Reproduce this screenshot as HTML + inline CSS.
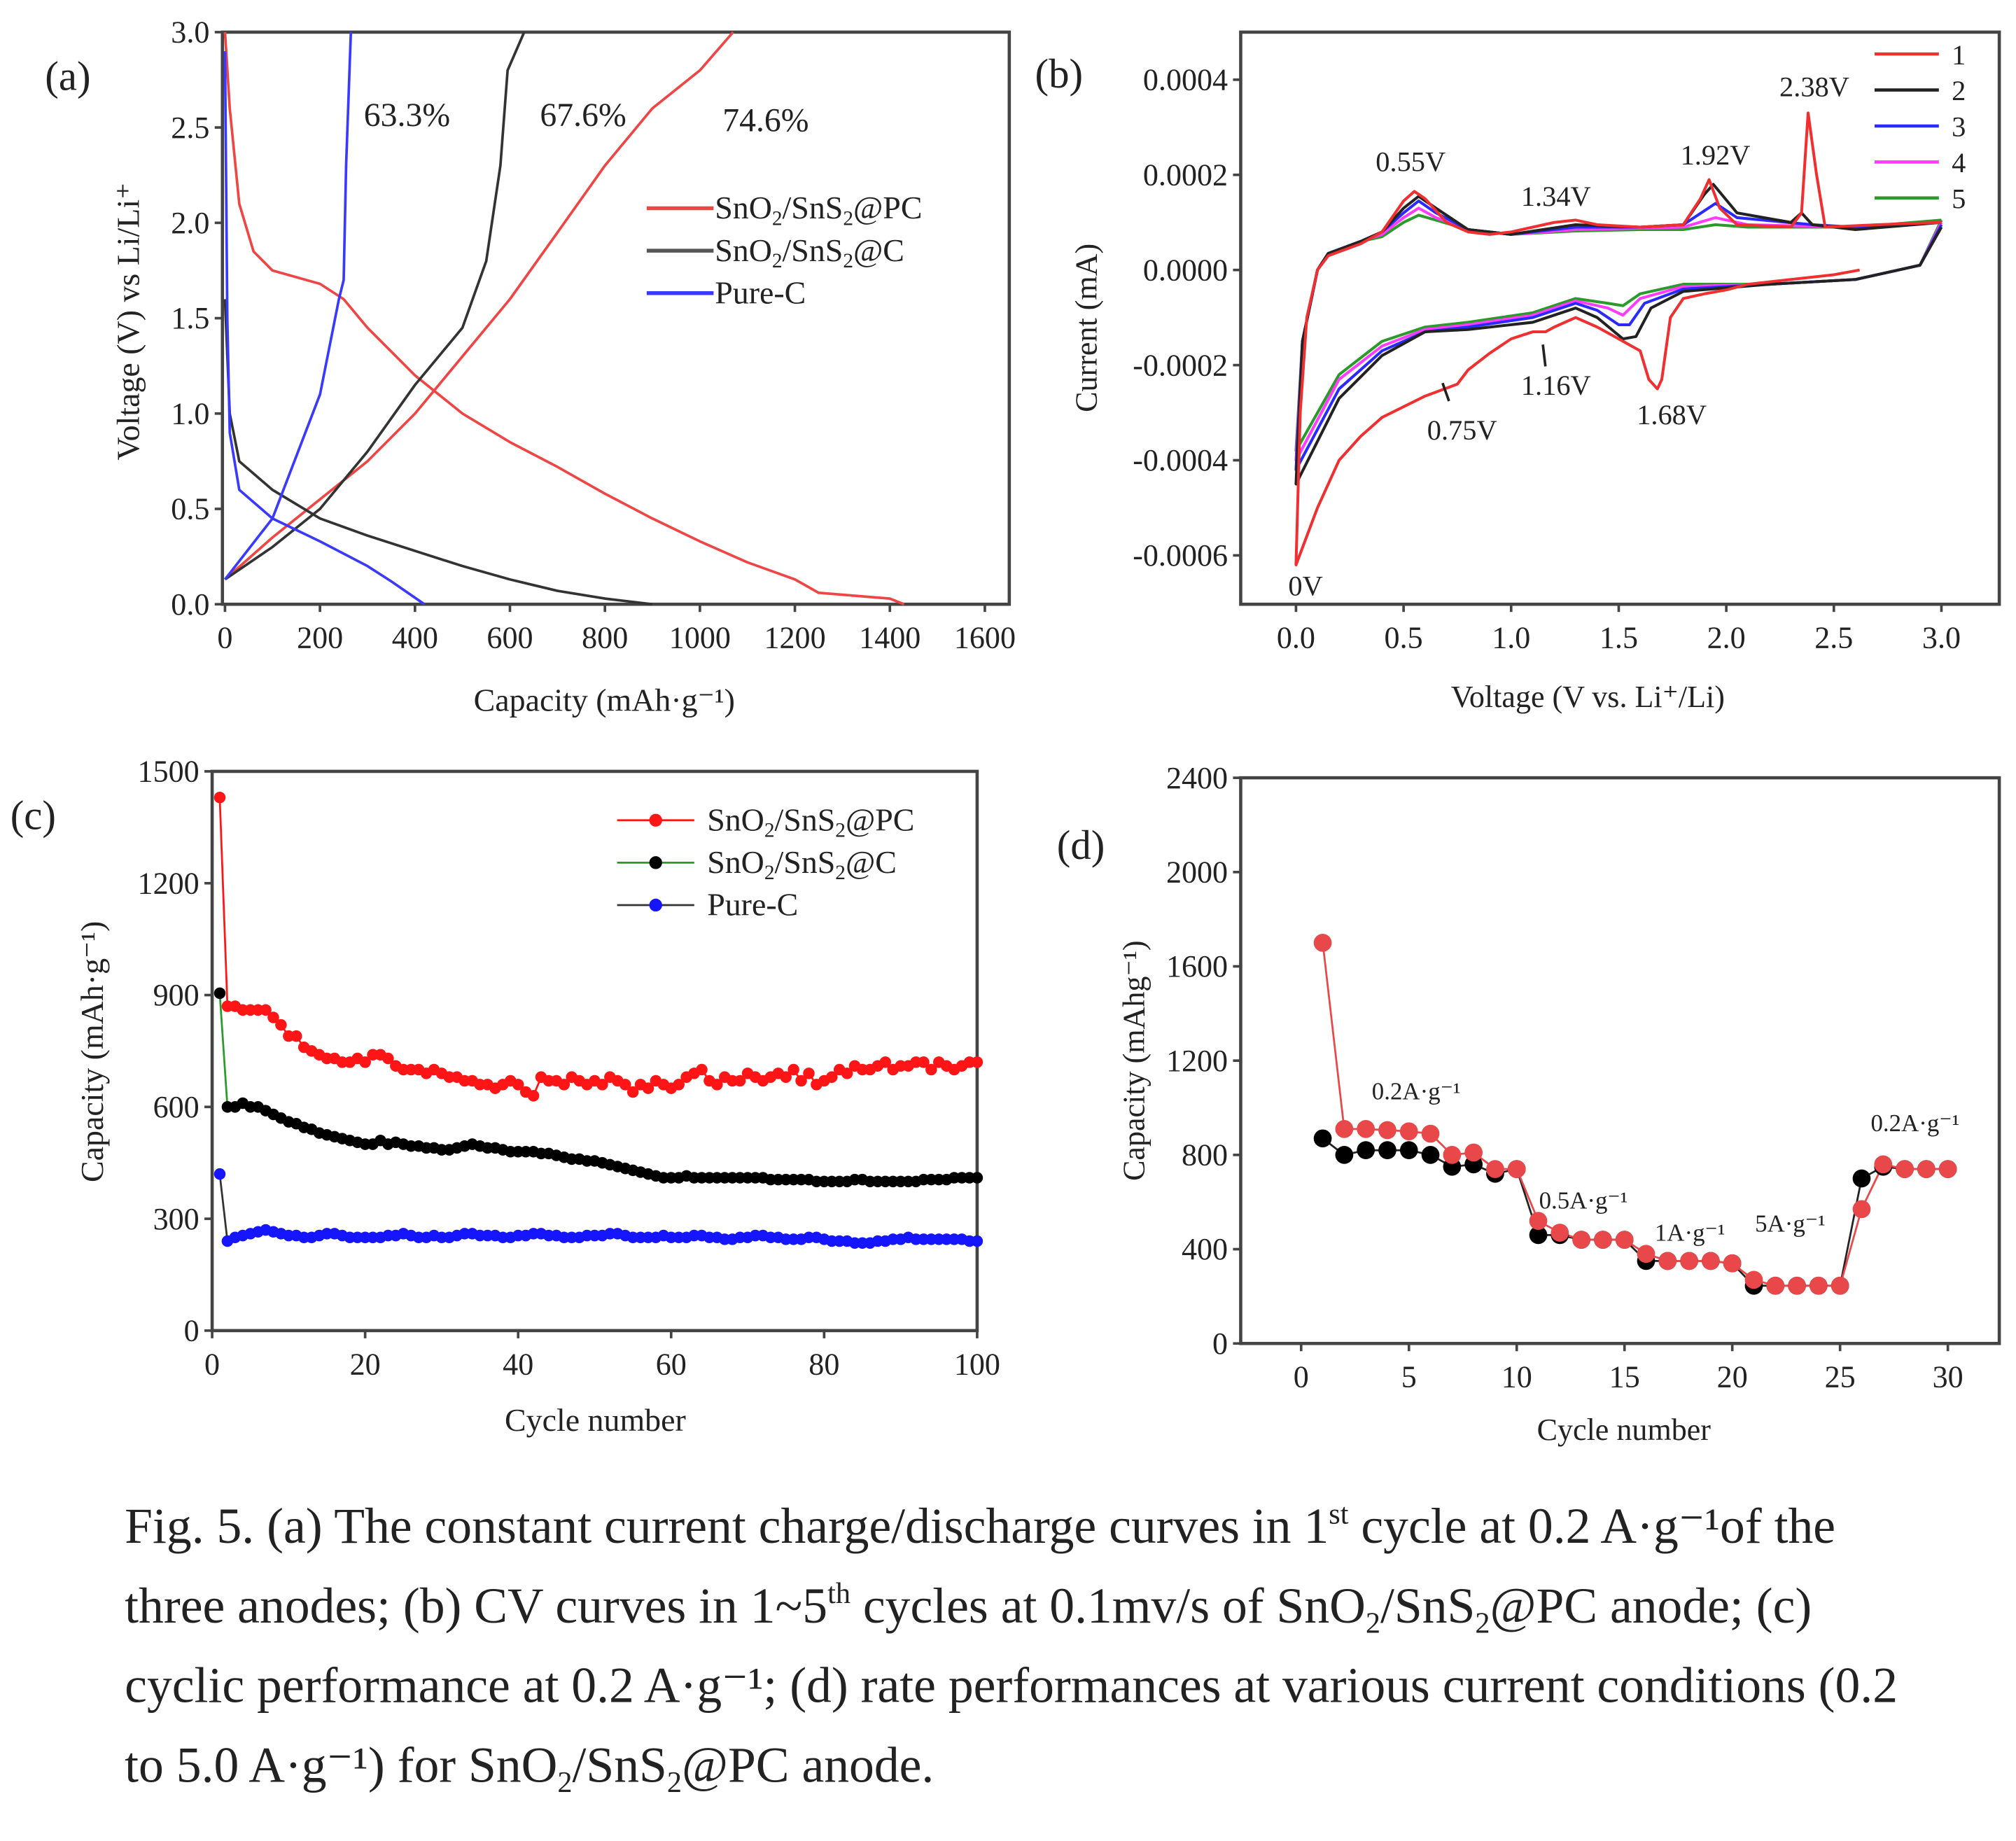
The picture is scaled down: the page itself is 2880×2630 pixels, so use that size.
<!DOCTYPE html>
<html><head><meta charset="utf-8"><style>
html,body{margin:0;padding:0;background:#fff;}
svg{display:block;font-family:"Liberation Serif","DejaVu Serif",serif;}
svg text{font-family:"Liberation Serif","DejaVu Serif",serif;fill:#222;}
</style></head><body>
<svg id="fig" xmlns="http://www.w3.org/2000/svg" width="2880" height="2630" viewBox="0 0 1568 1432" preserveAspectRatio="none" font-family="Liberation Serif, serif">
<rect x="0" y="0" width="1568" height="1432" fill="#fff"/>
<g id="pa"></g>
<g id="pb"></g>
<g id="pc"></g>
<g id="pd"></g>
<g font-size="39">
<text x="97" y="1200" font-size="39">Fig. 5. (a) The constant current charge/discharge curves in 1<tspan font-size="23" dy="-15">st</tspan><tspan dy="15"> cycle at 0.2 A·g⁻¹of the</tspan></text>
<text x="97" y="1262" font-size="39">three anodes; (b) CV curves in 1~5<tspan font-size="23" dy="-15">th</tspan><tspan dy="15"> cycles at 0.1mv/s of SnO</tspan><tspan font-size="23" dy="8">2</tspan><tspan dy="-8">/SnS</tspan><tspan font-size="23" dy="8">2</tspan><tspan dy="-8">@PC anode; (c)</tspan></text>
<text x="97" y="1324" font-size="39">cyclic performance at 0.2 A·g⁻¹; (d) rate performances at various current conditions (0.2</text>
<text x="97" y="1386" font-size="39">to 5.0 A·g⁻¹) for SnO<tspan font-size="23" dy="8">2</tspan><tspan dy="-8">/SnS</tspan><tspan font-size="23" dy="8">2</tspan><tspan dy="-8">@PC anode.</tspan></text>
</g>
</svg>
<script>
// ---------- Panel (a) data: [capacity, voltage]
const aPCdis=[[0,3.0],[10,2.6],[30,2.1],[60,1.85],[100,1.75],[200,1.68],[250,1.6],[300,1.45],[400,1.2],[500,1.0],[600,0.85],[700,0.72],[800,0.58],[900,0.45],[1000,0.33],[1100,0.22],[1200,0.13],[1250,0.06],[1400,0.03],[1430,0]];
const aPCch=[[0,0.13],[100,0.35],[200,0.55],[300,0.75],[400,1.0],[500,1.3],[600,1.6],[700,1.95],[800,2.3],[900,2.6],[1000,2.8],[1070,3.0]];
const aCdis=[[0,1.6],[10,1.0],[30,0.75],[100,0.6],[200,0.45],[300,0.36],[400,0.28],[500,0.2],[600,0.13],[700,0.07],[800,0.03],[900,0.0]];
const aCch=[[0,0.13],[100,0.3],[200,0.5],[300,0.8],[400,1.15],[500,1.45],[550,1.8],[580,2.3],[595,2.8],[630,3.0]];
const aPuredis=[[0,2.9],[5,1.5],[10,0.9],[30,0.6],[100,0.45],[200,0.33],[300,0.2],[350,0.12],[420,0]];
const aPurech=[[0,0.13],[100,0.45],[200,1.1],[240,1.6],[250,1.7],[255,2.3],[265,3.0]];
const aXticks=[0,200,400,600,800,1000,1200,1400,1600];
const aYticks=[0.0,0.5,1.0,1.5,2.0,2.5,3.0];
// ---------- Panel (b) data: [V, I(1e-4 mA)], loop per cycle
const bC1=[[2.62,0.0],[2.5,-0.1],[2.3,-0.2],[2.1,-0.3],[2.0,-0.42],[1.9,-0.5],[1.8,-0.6],[1.74,-1.0],[1.7,-2.3],[1.68,-2.5],[1.64,-2.3],[1.6,-1.7],[1.5,-1.45],[1.4,-1.2],[1.3,-1.0],[1.2,-1.2],[1.16,-1.3],[1.1,-1.3],[1.0,-1.45],[0.9,-1.75],[0.8,-2.1],[0.75,-2.4],[0.6,-2.65],[0.4,-3.1],[0.3,-3.5],[0.2,-4.0],[0.1,-5.0],[0.0,-6.2],[0.02,-3.0],[0.05,-1.0],[0.1,0.0],[0.15,0.3],[0.3,0.55],[0.4,0.8],[0.5,1.45],[0.55,1.65],[0.6,1.5],[0.7,1.0],[0.8,0.8],[0.9,0.75],[1.0,0.8],[1.1,0.9],[1.2,1.0],[1.3,1.05],[1.4,0.95],[1.6,0.9],[1.8,0.95],[1.88,1.5],[1.92,1.9],[1.97,1.3],[2.05,0.95],[2.3,0.9],[2.35,1.2],[2.38,3.3],[2.42,2.0],[2.46,0.9],[2.7,0.95],[3.0,1.0]];
const bC2=[[3.0,0.9],[2.9,0.1],[2.6,-0.2],[2.2,-0.3],[1.8,-0.45],[1.65,-0.8],[1.58,-1.4],[1.52,-1.45],[1.4,-1.0],[1.3,-0.8],[1.1,-1.1],[0.8,-1.25],[0.6,-1.3],[0.4,-1.8],[0.2,-2.7],[0.0,-4.5],[0.03,-1.5],[0.1,0.0],[0.15,0.35],[0.3,0.6],[0.4,0.8],[0.5,1.3],[0.57,1.55],[0.65,1.3],[0.8,0.85],[1.0,0.75],[1.3,0.95],[1.6,0.9],[1.8,0.95],[1.9,1.6],[1.94,1.8],[2.05,1.2],[2.3,1.0],[2.35,1.2],[2.4,0.95],[2.6,0.85],[3.0,1.0]];
const bC3=[[3.0,0.95],[2.9,0.1],[2.6,-0.2],[2.2,-0.3],[1.8,-0.4],[1.62,-0.7],[1.55,-1.15],[1.5,-1.15],[1.4,-0.85],[1.3,-0.7],[1.1,-1.0],[0.8,-1.2],[0.6,-1.3],[0.4,-1.7],[0.2,-2.5],[0.0,-4.2],[0.03,-1.5],[0.1,0.0],[0.15,0.35],[0.3,0.6],[0.4,0.8],[0.5,1.2],[0.57,1.45],[0.65,1.2],[0.8,0.85],[1.0,0.75],[1.3,0.9],[1.6,0.9],[1.8,0.95],[1.95,1.4],[2.05,1.1],[2.4,0.95],[2.6,0.9],[3.0,1.0]];
const bC4=[[3.0,1.0],[2.9,0.1],[2.6,-0.2],[2.2,-0.3],[1.8,-0.35],[1.6,-0.6],[1.52,-0.95],[1.45,-0.8],[1.3,-0.65],[1.1,-0.95],[0.8,-1.15],[0.6,-1.25],[0.4,-1.6],[0.2,-2.3],[0.0,-4.0],[0.03,-1.5],[0.1,0.0],[0.15,0.35],[0.3,0.6],[0.4,0.75],[0.5,1.1],[0.57,1.3],[0.65,1.1],[0.8,0.85],[1.0,0.75],[1.3,0.85],[1.6,0.88],[1.8,0.9],[1.95,1.1],[2.1,0.95],[2.6,0.9],[3.0,1.0]];
const bC5=[[3.0,1.05],[2.9,0.1],[2.6,-0.2],[2.2,-0.3],[1.8,-0.3],[1.6,-0.5],[1.52,-0.75],[1.45,-0.7],[1.3,-0.6],[1.1,-0.9],[0.8,-1.1],[0.6,-1.2],[0.4,-1.5],[0.2,-2.2],[0.0,-3.8],[0.03,-1.5],[0.1,0.0],[0.15,0.35],[0.3,0.6],[0.4,0.7],[0.5,1.0],[0.57,1.15],[0.65,1.05],[0.8,0.85],[1.0,0.75],[1.3,0.82],[1.6,0.85],[1.8,0.85],[1.95,0.95],[2.1,0.9],[2.6,0.9],[3.0,1.05]];
const bXticks=[0.0,0.5,1.0,1.5,2.0,2.5,3.0];
const bYticks=[-6,-4,-2,0,2,4];
const bYlabels=["-0.0006","-0.0004","-0.0002","0.0000","0.0002","0.0004"];
// ---------- Panel (c) data (mAh/g per cycle 1..100)
const cPC=[1430,870,870,860,860,860,860,840,820,790,790,760,750,740,730,730,720,720,730,720,740,740,730,710,700,700,700,690,700,690,680,680,670,670,660,660,650,660,670,660,640,630,680,670,670,660,680,670,660,670,660,680,670,660,640,660,650,670,660,650,660,680,690,700,670,660,680,670,670,690,680,670,680,690,680,700,670,690,660,670,680,700,690,710,700,700,710,720,700,710,710,720,720,700,720,710,700,710,720,720];
const cC=[905,600,600,610,600,600,590,580,570,560,555,545,540,530,525,520,515,510,505,500,500,510,500,505,500,495,495,490,490,485,485,490,495,500,495,490,490,485,480,480,480,480,475,475,470,465,460,460,455,455,450,445,440,435,430,425,420,415,410,410,410,415,410,410,410,410,410,410,410,410,410,410,405,405,405,405,405,405,400,400,400,400,400,405,405,400,400,400,400,400,400,400,405,405,405,405,410,410,410,410];
const cPure=[420,240,250,255,260,265,270,265,260,255,255,250,250,255,260,260,255,250,250,250,250,250,255,255,260,255,250,250,255,250,250,255,260,260,255,255,255,250,250,255,255,260,260,255,255,250,250,250,255,255,255,260,260,255,250,250,250,250,255,250,250,250,255,255,250,250,245,245,250,250,255,255,250,250,245,245,245,250,250,245,240,240,240,235,235,235,240,240,245,245,250,245,245,245,245,245,245,245,240,240];
const cXticks=[0,20,40,60,80,100];
const cYticks=[0,300,600,900,1200,1500];
// ---------- Panel (d) data
const dRed=[1700,910,910,905,900,890,800,810,740,740,520,470,440,440,440,380,350,350,350,340,270,245,245,245,245,570,760,740,740,740];
const dBlack=[870,800,820,820,820,800,750,760,720,740,460,460,440,440,440,350,350,350,350,340,245,245,245,245,245,700,750,740,740,740];
const dXticks=[0,5,10,15,20,25,30];
const dYticks=[0,400,800,1200,1600,2000,2400];

const NS="http://www.w3.org/2000/svg";
const FF="Liberation Serif, serif";
function mk(parent,tag,attrs,txt){const e=document.createElementNS(NS,tag);for(const k in attrs)e.setAttribute(k,attrs[k]);if(tag==='text')e.setAttribute('font-family',FF);if(txt!==undefined)e.textContent=txt;parent.appendChild(e);return e;}
function lin(d0,d1,r0,r1){return v=>r0+(v-d0)*(r1-r0)/(d1-d0);}

function axes(g,X,Y,box,xt,yt,xl,yl){
  const fr=mk(g,'rect',{x:box[0],y:box[1],width:box[2]-box[0],height:box[3]-box[1],fill:'none',stroke:'#444','stroke-width':2.5});
  
  
  xt.forEach((v,i)=>{const x=X(v);mk(g,'line',{x1:x,x2:x,y1:box[3],y2:box[3]+6,stroke:'#444','stroke-width':2});
    const t=mk(g,'text',{x:x,y:box[3]+34,'text-anchor':'middle','font-size':24},xl?xl[i]:String(v));
    
    });
  yt.forEach((v,i)=>{const y=Y(v);mk(g,'line',{x1:box[0],x2:box[0]-6,y1:y,y2:y,stroke:'#444','stroke-width':2});
    const t=mk(g,'text',{x:box[0]-10,y:y+8,'text-anchor':'end','font-size':24},yl?yl[i]:String(v));
    
    });
}
function poly(g,pts,X,Y,color,w,name){
  const p=mk(g,'polyline',{points:pts.map(p=>X(p[0]).toFixed(1)+','+Y(p[1]).toFixed(1)).join(' '),fill:'none',stroke:color,'stroke-width':w||2,'stroke-linejoin':'round'});
  
  
  return p;
}
function sub(t,tail){t.innerHTML='SnO<tspan font-size="16" dy="5">2</tspan><tspan dy="-5">/SnS</tspan><tspan font-size="16" dy="5">2</tspan><tspan dy="-5">'+tail+'</tspan>';}

// Panel a
(function(){
  const g=document.getElementById('pa');
  const box=[173,25,785,470];
  const X=lin(0,1600,175,766),Y=lin(0,3,470,25);
  axes(g,X,Y,box,aXticks,aYticks,null,aYticks.map(v=>v.toFixed(1)));
  poly(g,aPCdis,X,Y,'#f04545',2,'pc-discharge');poly(g,aPCch,X,Y,'#f04545',2,'pc-charge');
  poly(g,aCdis,X,Y,'#333',2,'c-discharge');poly(g,aCch,X,Y,'#333',2,'c-charge');
  poly(g,aPuredis,X,Y,'#3a3aff',2,'purec-discharge');poly(g,aPurech,X,Y,'#3a3aff',2,'purec-charge');
  mk(g,'text',{x:35,y:70,'font-size':32},'(a)');
  mk(g,'text',{x:283,y:98,'font-size':26},'63.3%');mk(g,'text',{x:420,y:98,'font-size':26},'67.6%');mk(g,'text',{x:562,y:102,'font-size':26},'74.6%');
  const L=[['#f04545','@PC'],['#555','@C'],['#3a3aff','Pure-C']];
  L.forEach((l,i)=>{const y=162+i*33;mk(g,'line',{x1:503,x2:555,y1:y,y2:y,stroke:l[0],'stroke-width':3});
    const t=mk(g,'text',{x:556,y:y+8,'font-size':25});
    
    
    if(i<2)sub(t,l[1]);else t.textContent=l[1];});
  mk(g,'text',{x:470,y:553,'text-anchor':'middle','font-size':25},'Capacity (mAh·g⁻¹)');
  mk(g,'text',{x:108,y:250,'text-anchor':'middle','font-size':25,transform:'rotate(-90 108 250)'},'Voltage (V) vs Li/Li⁺');
})();

// Panel b
(function(){
  const g=document.getElementById('pb');
  const box=[965,25,1555,470];
  const X=lin(0,3,1008,1510),Y=lin(0,2,210,136);
  axes(g,X,Y,box,bXticks,bYticks,bXticks.map(v=>v.toFixed(1)),bYlabels);
  const cols=['#f03030','#222','#2a2aff','#ff3cff','#2a9a2a'];
  [bC5,bC4,bC3,bC2,bC1].forEach((c,i)=>poly(g,c,X,Y,cols[4-i],2.2,'cv-cycle-'+(5-i)));
  mk(g,'text',{x:805,y:68,'font-size':32},'(b)');
  cols.forEach((c,i)=>{const y=42+i*28;mk(g,'line',{x1:1458,x2:1508,y1:y,y2:y,stroke:c,'stroke-width':2.5});
    const t=mk(g,'text',{x:1518,y:y+8,'font-size':22},String(i+1));
    
    });
  [['0.55V',1070,133],['1.34V',1183,160],['1.92V',1307,128],['2.38V',1384,75],['1.16V',1183,307],['1.68V',1273,330],['0.75V',1110,342],['0V',1002,463]].forEach(a=>mk(g,'text',{x:a[1],y:a[2],'font-size':22},a[0]));
  mk(g,'line',{x1:1127,y1:312,x2:1122,y2:298,stroke:'#222','stroke-width':2});
  mk(g,'line',{x1:1202,y1:285,x2:1200,y2:268,stroke:'#222','stroke-width':2});
  mk(g,'text',{x:1235,y:550,'text-anchor':'middle','font-size':24},'Voltage (V vs. Li⁺/Li)');
  mk(g,'text',{x:853,y:255,'text-anchor':'middle','font-size':24,transform:'rotate(-90 853 255)'},'Current (mA)');
})();

// Panel c
(function(){
  const g=document.getElementById('pc');
  const box=[165,600,760,1035];
  const X=lin(0,100,165,760),Y=lin(0,1500,1035,600);
  axes(g,X,Y,box,cXticks,cYticks);
  const sets=[[cPure,'#1515ff','#333','purec'],[cC,'#000','#2a9a2a','c'],[cPC,'#ff1515','#ff1515','pc']];
  sets.forEach(s=>{
    poly(g,s[0].map((v,i)=>[i+1,v]),X,Y,s[2],1.5,'line-'+s[3]);
    s[0].forEach((v,i)=>{const c=mk(g,'circle',{cx:X(i+1),cy:Y(v),r:4.5,fill:s[1]});
      
      });
  });
  mk(g,'text',{x:8,y:645,'font-size':32},'(c)');
  const L=[['#ff1515','#ff1515','@PC'],['#000','#2a9a2a','@C'],['#1515ff','#333','Pure-C']];
  L.forEach((l,i)=>{const y=638+i*33;mk(g,'line',{x1:480,x2:540,y1:y,y2:y,stroke:l[1],'stroke-width':1.5});
    mk(g,'circle',{cx:510,cy:y,r:5,fill:l[0]});
    const t=mk(g,'text',{x:550,y:y+8,'font-size':25});
    
    
    if(i<2)sub(t,l[2]);else t.textContent=l[2];});
  mk(g,'text',{x:463,y:1113,'text-anchor':'middle','font-size':25},'Cycle number');
  mk(g,'text',{x:80,y:818,'text-anchor':'middle','font-size':25,transform:'rotate(-90 80 818)'},'Capacity (mAh·g⁻¹)');
})();

// Panel d
(function(){
  const g=document.getElementById('pd');
  const box=[965,605,1555,1045];
  const X=lin(0,30,1012,1515),Y=lin(0,2400,1045,605);
  axes(g,X,Y,box,dXticks,dYticks);
  poly(g,dBlack.map((v,i)=>[i+1,v]),X,Y,'#222',1.5,'line-black');
  poly(g,dRed.map((v,i)=>[i+1,v]),X,Y,'#e8484a',1.5,'line-red');
  dBlack.forEach((v,i)=>{const c=mk(g,'circle',{cx:X(i+1),cy:Y(v),r:7,fill:'#000'});
    
    });
  dRed.forEach((v,i)=>{const c=mk(g,'circle',{cx:X(i+1),cy:Y(v),r:7,fill:'#e8484a'});
    
    });
  mk(g,'text',{x:822,y:668,'font-size':32},'(d)');
  [['0.2A·g⁻¹',1067,855],['0.5A·g⁻¹',1197,940],['1A·g⁻¹',1287,965],['5A·g⁻¹',1365,958],['0.2A·g⁻¹',1455,880]].forEach(a=>mk(g,'text',{x:a[1],y:a[2],'font-size':19},a[0]));
  mk(g,'text',{x:1263,y:1120,'text-anchor':'middle','font-size':24},'Cycle number');
  mk(g,'text',{x:890,y:825,'text-anchor':'middle','font-size':24,transform:'rotate(-90 890 825)'},'Capacity (mAhg⁻¹)');
})();
</script>
</body></html>
